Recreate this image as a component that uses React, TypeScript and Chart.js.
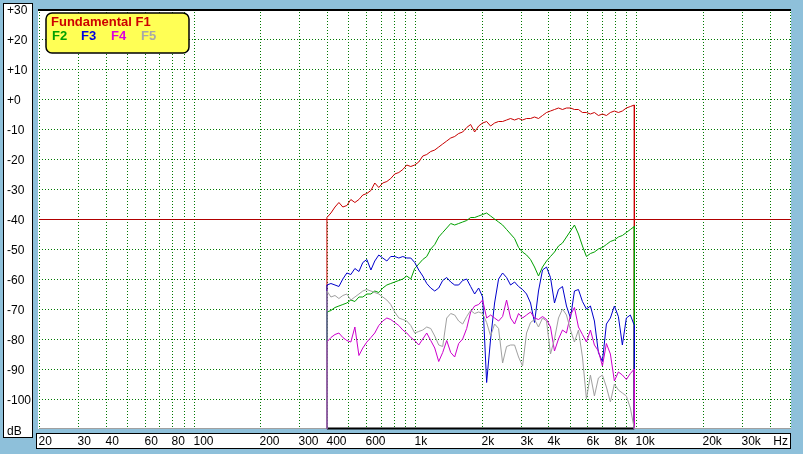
import { useEffect, useRef } from "react";
import { Chart, registerables } from "chart.js";
Chart.register(...registerables);

const FREQS = [400,417,435,453,472,492,513,535,558,581,606,632,658,686,715,746,777,810,845,881,918,957,997,1040,1084,1130,1178,1228,1280,1334,1391,1450,1511,1575,1642,1712,1784,1860,1939,2021,2107,2196,2289,2386,2488,2593,2703,2818,2937,3062,3192,3327,3468,3615,3769,3929,4095,4269,4450,4639,4836,5041,5254,5477,5710,5952,6204,6467,6742,7028,7326,7636,7960,8298,8650,9017,9399,9798];

const F1 = [-39.5,-38,-36,-34.5,-36,-35.5,-33.5,-34.5,-33.5,-32,-31.5,-30.5,-28,-29.5,-28,-27.5,-26.5,-25,-24.5,-23.5,-22,-22.5,-22,-21,-19,-18.5,-17.5,-17,-16,-15,-14,-13,-12.5,-11.5,-11,-9.5,-8.5,-11,-9,-8,-7.5,-9,-8,-7.5,-7.5,-7,-6.5,-7,-6.5,-7,-6.5,-6.5,-6,-6.5,-5.5,-4.5,-4,-3.5,-3,-3.5,-3,-3,-3.5,-3.5,-4.5,-4.5,-5,-4.5,-5.5,-5,-5.5,-4.5,-4,-4.5,-4,-3,-2.5,-2];
const F2 = [-71,-70.5,-69.5,-69,-68.5,-68,-67,-67.5,-66,-66,-65,-65,-64,-64.5,-63,-62,-61.5,-61,-60.5,-60,-59,-60,-56.5,-55,-53.5,-52.5,-50,-48.5,-46,-44.5,-43,-41.5,-42,-41.5,-41,-40.5,-39.5,-39.5,-39,-38.5,-38,-39,-40,-41,-42,-43.5,-45,-46.5,-49.5,-51,-52,-53.5,-56,-59,-56,-54,-52.5,-51,-49,-48,-46,-44,-42,-45,-49,-52.5,-51.5,-51,-50,-49.5,-48.5,-47.5,-47,-46,-45.5,-44.5,-43.5,-42.5];
const F3 = [-62,-61.5,-62,-62.5,-60,-58,-58.5,-56.5,-57.5,-54.5,-53.5,-57,-54,-52,-53,-54,-52.5,-52.5,-53,-52.5,-53,-53,-54.5,-57,-59,-61.5,-63,-64,-63,-60.5,-59.5,-61,-62,-62,-60.5,-60,-62.5,-65,-63,-66,-94.5,-80,-68,-60,-58,-59.5,-62,-61,-62.5,-63.5,-65,-68,-74.5,-64,-57,-56,-59.5,-68,-63.5,-62.5,-69,-73,-64,-63.5,-67.5,-70,-69,-74,-84.5,-87.5,-75,-73,-69,-72.5,-82,-73,-72,-75.5];
const F4 = [-81,-79.5,-78.5,-78,-79.5,-80.5,-81,-76,-85.5,-83,-81,-79.5,-78,-75.5,-74,-73,-73.5,-74.5,-75.5,-77,-78,-79.5,-80.5,-82,-80,-78,-80.5,-83,-87.5,-84.5,-80.5,-84.5,-86,-81.5,-80,-76.5,-71,-69,-68.5,-67,-73,-72,-73,-74,-72.5,-67,-73,-75,-71.5,-73,-72,-71,-73,-73.5,-72.5,-73.5,-76,-84,-80,-77,-78,-72,-69.5,-76,-78.5,-81,-77,-82,-84,-89,-81.5,-85,-94,-91,-92,-93.5,-91.5,-90];
const F5 = [-64,-66,-65.5,-66.5,-65.5,-65,-67,-66,-65,-64,-63.5,-64,-64.5,-65,-66,-67,-68.5,-71,-73,-73.5,-74,-75.5,-78,-77.5,-77,-76,-76.5,-79,-82,-82.5,-73,-71.5,-72,-74,-75,-72.5,-70.5,-71.5,-71,-71.5,-74.5,-79,-75,-76.5,-88,-82.5,-82,-82,-86,-89,-78,-74.5,-73.5,-76,-73,-74,-85,-80,-73,-70,-72,-77,-81,-77,-86,-100,-92,-99,-93,-92,-96,-101,-95,-97,-98,-99,-103,-110];

const SERIES_NAMES = ["F1", "F2", "F3", "F4", "F5"];
const SERIES_VALUES = [F1, F2, F3, F4, F5];
const LINE_COLORS = ["#c80000", "#00a000", "#0000cc", "#cc00cc", "#a0a0a0"];
const TEXT_COLORS = ["#cc0000", "#00a000", "#0000e0", "#dd00dd", "#a8a8a8"];

const FLOOR = -110;
const Y_MIN = -110;
const Y_MAX = 30;
const X_MIN = 20;
const X_MAX = 50000;
const REF_LEVEL = -40;

const Y_TICKS = [30, 20, 10, 0, -10, -20, -30, -40, -50, -60, -70, -80, -90, -100];
const Y_LABELS = ["+30", "+20", "+10", "+0", "-10", "-20", "-30", "-40", "-50", "-60", "-70", "-80", "-90", "-100"];
const X_TICKS = [20, 30, 40, 60, 80, 100, 200, 300, 400, 600, 1000, 2000, 3000, 4000, 6000, 8000, 10000, 20000, 30000];
const X_LABELS = ["20", "30", "40", "60", "80", "100", "200", "300", "400", "600", "1k", "2k", "3k", "4k", "6k", "8k", "10k", "20k", "30k"];
const X_GRID = [20, 30, 40, 50, 60, 70, 80, 90, 100, 200, 300, 400, 500, 600, 700, 800, 900, 1000, 2000, 3000, 4000, 5000, 6000, 7000, 8000, 9000, 10000, 20000, 30000, 40000];
const Y_GRID = [20, 10, 0, -10, -20, -30, -50, -60, -70, -80, -90, -100];

const FONT = "'Liberation Sans', Arial, sans-serif";

const framePlugin = {
  id: "frame",
  beforeDraw(chart: any) {
    const { ctx, chartArea: a, scales } = chart;
    const xs = scales.x, ys = scales.y;
    ctx.save();
    ctx.fillStyle = "#8ec0da";
    ctx.fillRect(0, 0, chart.width, chart.height);
    // y label box
    ctx.fillStyle = "#ffffff";
    ctx.fillRect(3, 3, 30, 435);
    ctx.strokeStyle = "#000";
    ctx.lineWidth = 1;
    ctx.strokeRect(3.5, 3.5, 29, 434);
    // x label box
    ctx.fillRect(36, 433, a.right - 36, 16);
    ctx.strokeRect(36.5, 433.5, a.right - 37, 15);
    // plot
    ctx.fillStyle = "#ffffff";
    ctx.fillRect(a.left - 1, a.top, a.right - a.left + 1, a.bottom - a.top);
    // grid
    ctx.strokeStyle = "#007800";
    ctx.setLineDash([1, 2]);
    ctx.beginPath();
    for (const f of X_GRID) {
      const x = Math.round(xs.getPixelForValue(f)) + 0.5;
      ctx.moveTo(x, a.top);
      ctx.lineTo(x, a.bottom);
    }
    const rx = Math.round(a.right) - 0.5;
    ctx.moveTo(rx, a.top);
    ctx.lineTo(rx, a.bottom);
    for (const v of Y_GRID) {
      const y = Math.round(ys.getPixelForValue(v)) + 0.5;
      ctx.moveTo(a.left, y);
      ctx.lineTo(a.right, y);
    }
    ctx.stroke();
    ctx.setLineDash([]);
    // reference line
    const yr = Math.round(ys.getPixelForValue(REF_LEVEL)) + 0.5;
    ctx.strokeStyle = "#b00000";
    ctx.beginPath();
    ctx.moveTo(a.left, yr);
    ctx.lineTo(a.right, yr);
    ctx.stroke();
    // bottom border
    const yb = Math.round(a.bottom) - 0.5;
    ctx.strokeStyle = "#a0a0a0";
    ctx.beginPath();
    ctx.moveTo(a.left, yb);
    ctx.lineTo(a.right, yb);
    ctx.stroke();
    ctx.strokeStyle = "#000";
    ctx.lineWidth = 2;
    ctx.beginPath();
    ctx.moveTo(xs.getPixelForValue(FREQS[0]), yb);
    ctx.lineTo(xs.getPixelForValue(FREQS[FREQS.length - 1]), yb);
    ctx.stroke();
    // top border
    ctx.beginPath();
    ctx.moveTo(a.left - 1, a.top + 1);
    ctx.lineTo(a.right, a.top + 1);
    ctx.stroke();
    // labels
    ctx.fillStyle = "#000";
    ctx.font = "12px " + FONT;
    ctx.textBaseline = "middle";
    ctx.textAlign = "left";
    Y_TICKS.forEach((v, i) => {
      let y = ys.getPixelForValue(v) + 1.5;
      if (y < 11) y = 11;
      ctx.fillText(Y_LABELS[i], 7, y);
    });
    ctx.fillText("dB", 7, ys.getPixelForValue(Y_MIN) + 2.5);
    X_TICKS.forEach((f, i) => {
      ctx.fillText(X_LABELS[i], Math.round(xs.getPixelForValue(f)) - 0.5, 441.5);
    });
    ctx.textAlign = "right";
    ctx.fillText("Hz", 788, 441.5);
    ctx.restore();
  },
  afterDraw(chart: any) {
    const { ctx } = chart;
    ctx.save();
    ctx.fillStyle = "#ffff55";
    ctx.strokeStyle = "#000";
    ctx.lineWidth = 1.5;
    ctx.beginPath();
    (ctx as any).roundRect(46, 13, 143, 40, 6);
    ctx.fill();
    ctx.stroke();
    ctx.font = "bold 13px " + FONT;
    ctx.textBaseline = "middle";
    ctx.textAlign = "left";
    ctx.fillStyle = TEXT_COLORS[0];
    ctx.fillText("Fundamental " + SERIES_NAMES[0], 51, 22.5);
    const lx = [52, 81, 111, 141];
    for (let i = 1; i < 5; i++) {
      ctx.fillStyle = TEXT_COLORS[i];
      ctx.fillText(SERIES_NAMES[i], lx[i - 1], 36.5);
    }
    ctx.restore();
  },
};

export default function App() {
  const ref = useRef<HTMLCanvasElement | null>(null);
  useEffect(() => {
    if (!ref.current) return;
    const last = FREQS.length - 1;
    const datasets = SERIES_VALUES.map((vals, s) => ({
      label: SERIES_NAMES[s],
      data: [
        { x: FREQS[0], y: FLOOR },
        ...FREQS.map((f, i) => ({ x: f, y: vals[i] })),
        { x: FREQS[last], y: FLOOR },
      ],
      borderColor: LINE_COLORS[s],
      borderWidth: 1,
      pointRadius: 0,
      tension: 0,
      fill: false,
      order: 4 - s,
    }));
    const chart = new Chart(ref.current, {
      type: "line",
      data: { datasets },
      options: {
        animation: false,
        responsive: false,
        maintainAspectRatio: false,
        layout: { padding: { left: 39, top: 9, right: 12, bottom: 25 } },
        plugins: { legend: { display: false }, tooltip: { enabled: false } },
        scales: {
          x: { type: "logarithmic", min: X_MIN, max: X_MAX, display: false },
          y: { type: "linear", min: Y_MIN, max: Y_MAX, display: false },
        },
      },
      plugins: [framePlugin],
    } as any);
    return () => chart.destroy();
  }, []);
  return (
    <div style={{ position: "fixed", left: 0, top: 0, width: 803, height: 454, background: "#8ec0da" }}>
      <canvas ref={ref} width={803} height={454} style={{ display: "block", width: 803, height: 454 }} />
    </div>
  );
}
